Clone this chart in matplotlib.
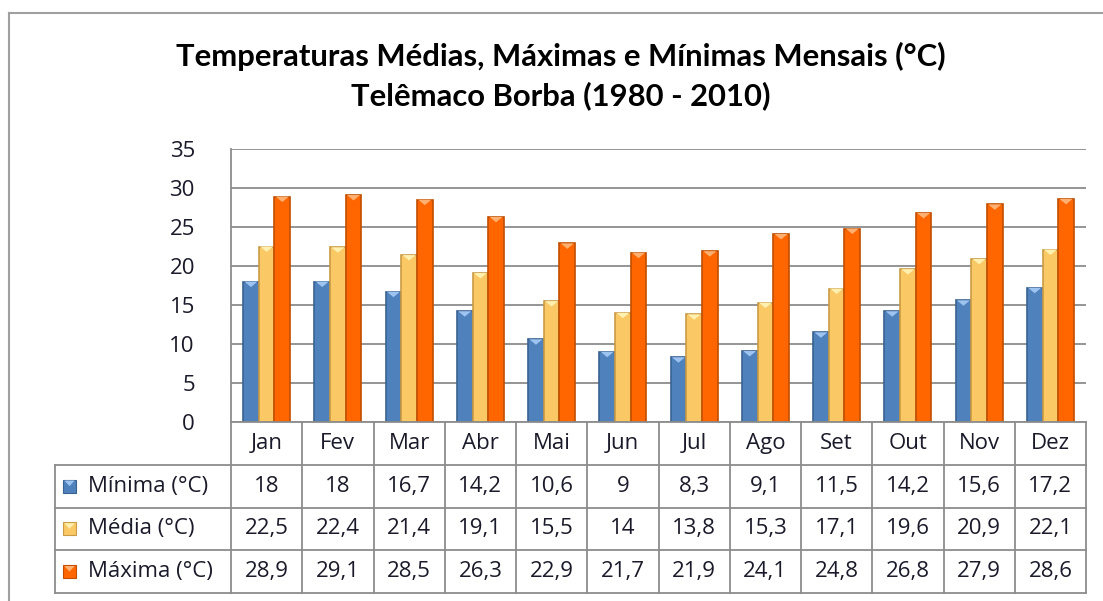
import matplotlib
matplotlib.use('Agg')
import matplotlib.pyplot as plt
from matplotlib.patches import Rectangle, Polygon
from matplotlib.lines import Line2D

months = ['Jan', 'Fev', 'Mar', 'Abr', 'Mai', 'Jun', 'Jul', 'Ago', 'Set', 'Out', 'Nov', 'Dez']
minima = [18, 18, 16.7, 14.2, 10.6, 9, 8.3, 9.1, 11.5, 14.2, 15.6, 17.2]
media = [22.5, 22.4, 21.4, 19.1, 15.5, 14, 13.8, 15.3, 17.1, 19.6, 20.9, 22.1]
maxima = [28.9, 29.1, 28.5, 26.3, 22.9, 21.7, 21.9, 24.1, 24.8, 26.8, 27.9, 28.6]
series_names = ['Mínima (°C)', 'Média (°C)', 'Máxima (°C)']
yticks = [0, 5, 10, 15, 20, 25, 30, 35]
title_lines = ['Temperaturas Médias, Máximas e Mínimas Mensais (°C)', 'Telêmaco Borba (1980 - 2010)']

series = [minima, media, maxima]
colors = ['#4F81BD', '#FAC864', '#FF6600']
edges = ['#3A6290', '#C99B45', '#C04E00']
tops = ['#9DC3F0', '#FFF0B0', '#FFB070']

plt.rcParams['font.family'] = ['Open Sans', 'DejaVu Sans']
W, H = 1103, 601
fig = plt.figure(figsize=(W / 100, H / 100), dpi=100)
fig.patch.set_facecolor('white')


def fr(x0, y0, x1, y1):
    return [x0 / W, 1 - y1 / H, (x1 - x0) / W, (y1 - y0) / H]


GRID = '#8C8C8C'
TXT = '#1A1A2A'
FS = 16

# outer chart border (cropped at right/bottom)
fig.add_artist(Line2D([9 / W, 9 / W], [0, 1 - 13 / H], color='#A0A0A0', lw=1.5))
fig.add_artist(Line2D([9 / W, 1], [1 - 13 / H, 1 - 13 / H], color='#A0A0A0', lw=1.5))

fig.text(561 / W, 1 - 56 / H, title_lines[0], ha='center', va='center', fontsize=22.3,
         fontweight='bold', color='black', family=['Lato', 'DejaVu Sans'])
fig.text(561 / W, 1 - 96 / H, title_lines[1], ha='center', va='center', fontsize=22.3,
         fontweight='bold', color='black', family=['Lato', 'DejaVu Sans'])

ax = fig.add_axes(fr(231, 149, 1086, 422))
n = len(months)
bw = 0.22
offs = [-bw, 0, bw]
for s, vals in enumerate(series):
    xs = [i + offs[s] for i in range(n)]
    ax.bar(xs, vals, width=bw, color=colors[s], edgecolor=edges[s], linewidth=1.2, zorder=3)
    for x, v in zip(xs, vals):
        tri = Polygon([(x - bw * 0.42, v), (x + bw * 0.42, v), (x, v - 0.7)], closed=True,
                      facecolor=tops[s], edgecolor='none', zorder=4)
        ax.add_patch(tri)
ax.set_xlim(-0.5, n - 0.5)
ax.set_ylim(0, 35)
ax.set_yticks(yticks)
ax.set_yticklabels([str(t) for t in yticks], fontsize=FS, color=TXT)
ax.tick_params(axis='y', length=0, pad=26)
ax.set_xticks([])
ax.grid(axis='y', color=GRID, lw=1.3, zorder=0)
for sp in ['top', 'right', 'bottom']:
    ax.spines[sp].set_visible(False)
ax.spines['left'].set_color(GRID)
ax.spines['left'].set_linewidth(1.3)

# data table
colw = (1086 - 231) / n
lab = (231 - 55) / colw
tax = fig.add_axes(fr(55, 422, 1086, 593))
xl = -0.5 - lab
tax.set_xlim(xl, n - 0.5)
tax.set_ylim(4, 0)
tax.axis('off')
lk = dict(color=GRID, lw=1.3, clip_on=False)
tax.plot([-0.5, n - 0.5], [0, 0], **lk)
for r in [1, 2, 3, 4]:
    tax.plot([xl, n - 0.5], [r, r], **lk)
tax.plot([xl, xl], [1, 4], **lk)
for c in range(n + 1):
    tax.plot([c - 0.5, c - 0.5], [0, 4], **lk)

for i, m in enumerate(months):
    tax.text(i, 0.5, m, ha='center', va='center', fontsize=FS, color=TXT)


def fmt(v):
    return f'{v:g}'.replace('.', ',')


for s, vals in enumerate(series):
    y = s + 1.5
    for i, v in enumerate(vals):
        tax.text(i, y, fmt(v), ha='center', va='center', fontsize=FS, color=TXT)
    kx = xl + 8 / colw
    ks = 13 / colw
    kh = 13 / 42.75
    tax.add_patch(Rectangle((kx, y - kh / 2), ks, kh, facecolor=colors[s], edgecolor=edges[s], lw=0.8))
    tax.add_patch(Polygon([(kx + ks * 0.1, y - kh / 2 + 0.02), (kx + ks * 0.9, y - kh / 2 + 0.02),
                           (kx + ks / 2, y)], facecolor=tops[s], edgecolor='none'))
    tax.text(xl + 33 / colw, y, series_names[s], ha='left', va='center', fontsize=FS, color=TXT)

fig.savefig('out.png', dpi=100)
